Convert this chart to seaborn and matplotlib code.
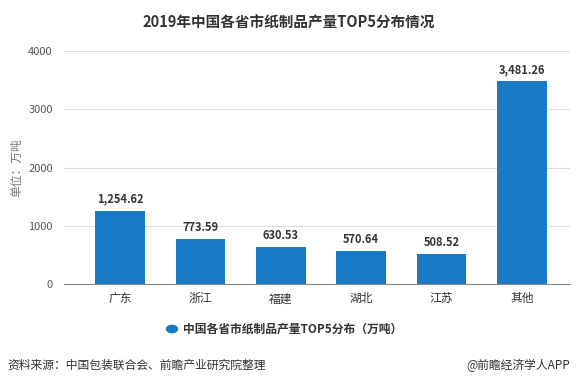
import seaborn as sns
import pandas as pd
import matplotlib.pyplot as plt

regions = ['广东', '浙江', '福建', '湖北', '江苏', '其他']
output = [1254.62, 773.59, 630.53, 570.64, 508.52, 3481.26]
yticks = [0, 1000, 2000, 3000, 4000]

data = pd.DataFrame({'region': regions, 'output': output})

sns.set_style('white')
plt.rcParams['font.family'] = ['Noto Sans CJK SC', 'DejaVu Sans']

fig = plt.figure(figsize=(5.77, 3.82), dpi=100)
ax = fig.add_axes([0.111, 0.2565, 0.877, 0.61])

bar_color = '#1a7ac8'
sns.barplot(data=data, x='region', y='output', color=bar_color, width=0.62,
            saturation=1, linewidth=0, edgecolor='none', ax=ax, zorder=3)

for i, v in enumerate(output):
    ax.text(i, v + 90, f'{v:,.2f}', ha='center', va='bottom', fontsize=8,
            fontweight='bold', color='#333333')

ax.set_xlim(-0.7, 5.6)
ax.set_ylim(0, 4000)
ax.set_yticks(yticks)
ax.set_yticklabels([str(t) for t in yticks], fontsize=8, color='#555555')
ax.tick_params(axis='x', labelsize=8.5, colors='#333333', length=0, pad=6)
ax.tick_params(axis='y', length=0, pad=8)
ax.yaxis.grid(True, color='#dddddd', linewidth=0.8, zorder=0)
for s in ['top', 'right', 'left']:
    ax.spines[s].set_visible(False)
ax.spines['bottom'].set_color('#888888')
ax.spines['bottom'].set_linewidth(0.8)
ax.set_xlabel('')
ax.set_ylabel('单位：万吨', fontsize=8.5, color='#777777')
ax.yaxis.set_label_coords(-0.08, 0.5)

fig.text(0.5, 0.94, '2019年中国各省市纸制品产量TOP5分布情况', ha='center', va='center',
         fontsize=10.5, fontweight='bold', color='#333333')

# legend
fig.patches.append(plt.Circle((172 / 577, 1 - 329 / 382), 0.0095, transform=fig.transFigure,
                              color=bar_color, figure=fig))
fig.text(183 / 577, 1 - 329 / 382, '中国各省市纸制品产量TOP5分布（万吨）', ha='left', va='center',
         fontsize=8.5, fontweight='bold', color='#333333')

fig.text(7 / 577, 1 - 365 / 382, '资料来源：中国包装联合会、前瞻产业研究院整理', ha='left',
         va='center', fontsize=8.5, color='#333333')
fig.text(570 / 577, 1 - 365 / 382, '@前瞻经济学人APP', ha='right', va='center',
         fontsize=8.5, color='#333333')

fig.savefig('out.png', dpi=100)
